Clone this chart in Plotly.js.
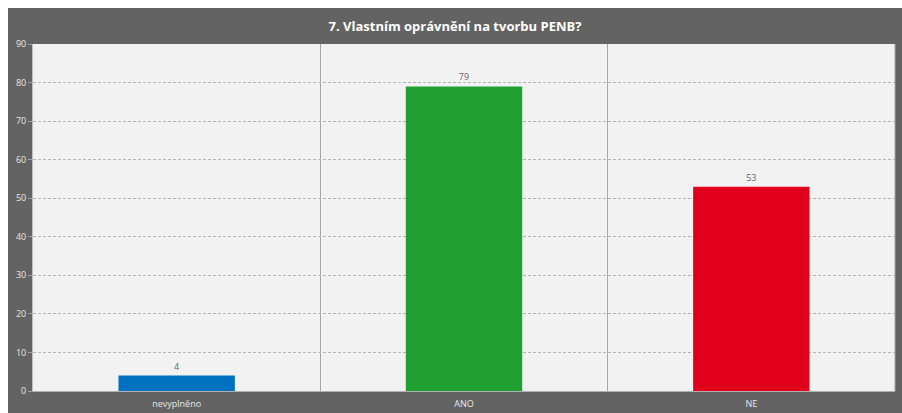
<!DOCTYPE html>
<html><head><meta charset="utf-8">
<script src="https://cdn.plot.ly/plotly-3.0.1.min.js"></script>
<style>
html,body{margin:0;padding:0;background:#fff;width:902px;height:413px;overflow:hidden;}
#chart{position:absolute;left:8px;top:8px;width:894px;height:405px;}
</style></head>
<body><div id="chart"></div>
<script>
const categories = ["nevyplněno", "ANO", "NE"];
const values = [4, 79, 53];
const barColors = ["#0070c0", "#21a032", "#e0001b"];
const yTicks = [0, 10, 20, 30, 40, 50, 60, 70, 80, 90];

const trace = {
  type: "bar",
  x: categories,
  y: values,
  marker: {color: barColors},
  width: 0.405,
  text: values.map(String),
  textposition: "outside",
  textfont: {family: "Open Sans, sans-serif", size: 9, color: "#666666"},
  cliponaxis: false,
  hoverinfo: "none"
};

const layout = {
  width: 894, height: 405,
  margin: {l: 25, r: 7, t: 36, b: 22},
  paper_bgcolor: "#636363",
  plot_bgcolor: "#f2f2f2",
  showlegend: false,
  title: {
    text: "<b>7. Vlastním oprávnění na tvorbu PENB?</b>",
    font: {family: "Open Sans, sans-serif", size: 13, color: "#ffffff"},
    x: 0.5, xanchor: "center", y: 0.955, yanchor: "middle"
  },
  xaxis: {
    type: "category",
    tickson: "boundaries",
    showgrid: true,
    gridcolor: "#a6a6a6",
    gridwidth: 1,
    showline: true, linecolor: "#b0b0b0", mirror: false,
    ticks: "",
    tickfont: {family: "Open Sans, sans-serif", size: 9, color: "#e8e8e8"},
    ticklabelstandoff: 4,
    range: [-0.5, 2.5],
    fixedrange: true
  },
  yaxis: {
    range: [0, 90],
    tickvals: yTicks,
    showgrid: true,
    gridcolor: "#b4b4b4",
    griddash: "3px,2px",
    gridwidth: 1,
    zeroline: false,
    showline: true, linecolor: "#c0c0c0",
    ticks: "outside", ticklen: 4, tickcolor: "#a0a0a0",
    tickfont: {family: "Open Sans, sans-serif", size: 9, color: "#e8e8e8"},
    fixedrange: true
  },
  shapes: [{
    type: "line", xref: "paper", yref: "paper",
    x0: 1, x1: 1, y0: 0, y1: 1,
    line: {color: "#a6a6a6", width: 1}
  }]
};

Plotly.newPlot("chart", [trace], layout, {displayModeBar: false, staticPlot: true});
</script></body></html>
